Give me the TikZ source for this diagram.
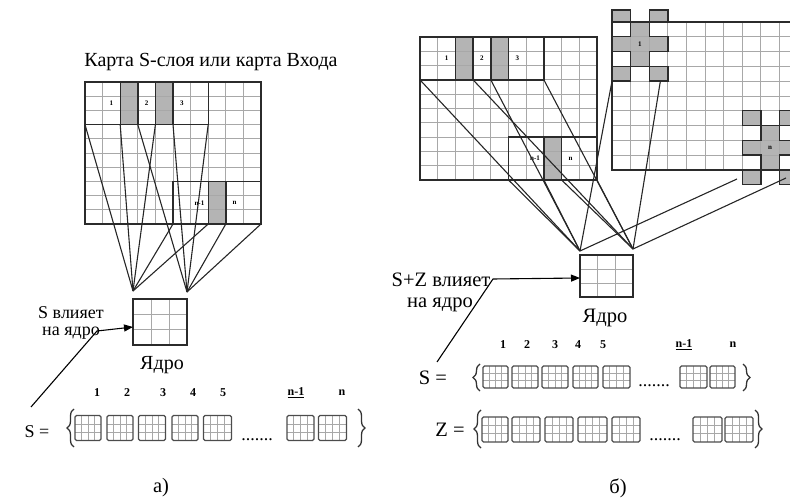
\documentclass[tikz,border=0pt]{standalone}
\usepackage{fontspec}
\setmainfont{Liberation Serif}
\usetikzlibrary{calc,arrows.meta,decorations.pathreplacing}
\definecolor{frameclr}{HTML}{2B2B2B}
\definecolor{gridclr}{HTML}{A8A8A8}
\definecolor{shadeclr}{HTML}{B4B4B4}
\tikzset{
  gridline/.style={draw=gridclr, line width=0.9pt},
  frameline/.style={draw=frameclr, line width=1.4pt},
  link/.style={draw=black!85, line width=1.1pt},
  celltag/.style={font=\fontsize{7}{7}\selectfont\bfseries, inner sep=0pt},
  caption/.style={font=\fontsize{18}{18}\selectfont, inner sep=0pt},
  bigcaption/.style={font=\fontsize{20.5}{20.5}\selectfont, inner sep=0pt},
  numtag/.style={font=\fontsize{12}{12}\selectfont\bfseries, inner sep=0pt},
  holder/.style={inner sep=0pt, outer sep=0pt},
  boxedge/.style={draw=black!70, line width=1.3pt, rounded corners=1.5pt},
  boxgrid/.style={draw=gridclr, line width=0.6pt},
  kernel/.style={inner sep=0pt, outer sep=0pt},
  pointer/.style={draw=black, line width=1.1pt, -{Triangle[length=9pt,width=7pt]}},
  curly/.style={decorate, decoration={brace, amplitude=7pt}, draw=black!80, line width=1.3pt},
}
% 10x10 input map: #1 name prefix, #2,#3 top-left corner, #4 cell width, #5 cell height
\newcommand\inputmap[5]{%
  \begin{scope}[shift={(#2,#3)}, x=#4pt, y=-#5pt]
    \fill[shadeclr] (2,0) rectangle (3,3) (4,0) rectangle (5,3) (7,7) rectangle (8,10);
    \foreach \i in {1,...,9} {
      \draw[gridline] (\i,0) -- (\i,10);
      \draw[gridline] (0,\i) -- (10,\i);
    }
    \draw[frameline] (0,0) rectangle (10,10);
    \draw[frameline] (0,3) -- (7,3) -- (7,0)
      (2,0) -- (2,3) (3,0) -- (3,3) (4,0) -- (4,3) (5,0) -- (5,3)
      (5,10) -- (5,7) -- (10,7) (7,7) -- (7,10) (8,7) -- (8,10);
    \node[celltag] (#1-w1) at (1.5,1.5) {1};
    \node[celltag] (#1-w2) at (3.5,1.5) {2};
    \node[celltag] (#1-w3) at (5.5,1.5) {3};
    \node[celltag] (#1-wm) at (6.5,8.5) {n-1};
    \node[celltag] (#1-wn) at (8.5,8.5) {n};
    \coordinate (#1-t0) at (0,3);
    \coordinate (#1-t2) at (2,3);
    \coordinate (#1-t3) at (3,3);
    \coordinate (#1-t4) at (4,3);
    \coordinate (#1-t5) at (5,3);
    \coordinate (#1-t7) at (7,3);
    \coordinate (#1-b5) at (5,10);
    \coordinate (#1-b7) at (7,10);
    \coordinate (#1-b8) at (8,10);
    \coordinate (#1-b10) at (10,10);
  \end{scope}}
% 3x3 kernel: #1 name, #2 centre, #3 width, #4 height
\newcommand\kernelbox[4]{%
  \node[kernel, minimum width=#3pt, minimum height=#4pt] (#1) at (#2) {};
  \foreach \f in {0.3333,0.6667} {
    \draw[gridline] ($(#1.north west)!\f!(#1.north east)$) -- ($(#1.south west)!\f!(#1.south east)$);
    \draw[gridline] ($(#1.north west)!\f!(#1.south west)$) -- ($(#1.north east)!\f!(#1.south east)$);
  }
  \draw[frameline] (#1.north west) rectangle (#1.south east);}
% small kernel picture in a set: #1 name, #2 centre, #3 width, #4 height
\newcommand\setcell[4]{%
  \node[holder, minimum width=#3pt, minimum height=#4pt] (#1) at (#2) {};
  \foreach \f in {0.25,0.5,0.75}
    \draw[boxgrid] ($(#1.north west)!\f!(#1.north east)$) -- ($(#1.south west)!\f!(#1.south east)$);
  \foreach \f in {0.3333,0.6667}
    \draw[boxgrid] ($(#1.north west)!\f!(#1.south west)$) -- ($(#1.north east)!\f!(#1.south east)$);
  \draw[boxedge] (#1.north west) rectangle (#1.south east);}
\begin{document}
\begin{tikzpicture}[x=1pt, y=-1pt]
\useasboundingbox (0,0) rectangle (790,502);

%% ---------- panel a ----------
\node[font=\fontsize{20}{20}\selectfont, inner sep=0pt] (titleA) at (211,62) {Карта S-слоя или карта Входа};
\inputmap{sa}{85}{82}{17.6}{14.2}
\kernelbox{ka}{160,322}{54}{46}
\coordinate (ka-l) at ($(ka.north west)+(0,-8)$);
\coordinate (ka-r) at ($(ka.north east)+(0,-7)$);
\foreach \p in {sa-t0,sa-t2,sa-t4,sa-b5,sa-b7} \draw[link] (\p) -- (ka-l);
\foreach \p in {sa-t3,sa-t5,sa-t7,sa-b8,sa-b10} \draw[link] (\p) -- (ka-r);
\node[font=\fontsize{20}{20}\selectfont, inner sep=0pt] (kaname) at (162,365) {Ядро};
\node[caption] (infA1) at (71,313) {S влияет};
\node[caption] (infA2) at (71,333) {на ядро};
\coordinate (pa-tail) at (31,407);
\coordinate (pa-bend) at (97,331);
\draw[pointer] (pa-tail) -- (pa-bend) -- ($(ka.west)+(0,5)$);

% set S
\node[caption] (setSa) at (37,432) {S =};
\draw[curly] (74,447) -- (74,409);
\setcell{sa1}{88,428}{26}{25}
\setcell{sa2}{120,428}{26}{25}
\setcell{sa3}{152,428}{27}{25}
\setcell{sa4}{185,428}{26}{25}
\setcell{sa5}{217.5,428}{28}{25}
\node[caption, anchor=base] (dotsA) at (257,440) {.......};
\setcell{sa6}{300.5,428}{27}{25}
\setcell{sa7}{332.5,428}{28}{25}
\draw[curly] (358,409) -- (358,447);
\foreach \t/\x in {1/97,2/127,3/163,4/193,5/223}
  \node[numtag] (nA\t) at (\x,393) {\t};
\node[numtag] (nAm) at (296,393) {\underline{n-1}};
\node[numtag] (nAn) at (342,393) {n};
\node[bigcaption] (capA) at (161,488) {а)};

%% ---------- panel b ----------
\inputmap{sb}{420}{37}{17.7}{14.3}
% map with the cross-shaped windows
\begin{scope}
  \clip (600,0) rectangle (790,200);
  \begin{scope}[shift={(612,22)}, x=18.6pt, y=-14.8pt]
    \fill[shadeclr] (0,-0.8) rectangle (1,0) (2,-0.8) rectangle (3,0)
      (1,0) rectangle (2,3) (0,1) rectangle (3,2) (0,3) rectangle (1,4) (2,3) rectangle (3,4);
    \fill[shadeclr] (7,6) rectangle (8,7) (9,6) rectangle (10,7)
      (8,7) rectangle (9,10) (7,8) rectangle (10,9) (7,10) rectangle (8,11) (9,10) rectangle (10,11);
    \foreach \i in {1,...,10} \draw[gridline] (\i,0) -- (\i,10);
    \foreach \i in {1,...,9} \draw[gridline] (0,\i) -- (10,\i);
    \draw[gridline] (1,-0.8) -- (1,0) (2,-0.8) -- (2,0);
    \draw[frameline] (0,0) -- (10,0) (0,0) -- (0,10) -- (10,10);
    \draw[frameline] (0,-0.8) rectangle (1,0) (2,-0.8) rectangle (3,0)
      (1,0) -- (1,1) -- (0,1) -- (0,2) -- (1,2) -- (1,3) -- (2,3) -- (2,2) -- (3,2) -- (3,1) -- (2,1) -- (2,0)
      (0,3) rectangle (1,4) (2,3) rectangle (3,4);
    \draw[frameline] (7,6) rectangle (8,7) (9,6) rectangle (10,7)
      (8,7) -- (8,8) -- (7,8) -- (7,9) -- (8,9) -- (8,10) -- (9,10) -- (9,9) -- (10,9) -- (10,8) -- (9,8) -- (9,7) -- cycle
      (7,10) rectangle (8,11) (9,10) rectangle (10,11);
    \node[celltag] (zc1) at (1.5,1.5) {1};
    \node[celltag] (zc2) at (8.5,8.5) {n};
    \coordinate (z-c1l) at (0,4);
    \coordinate (z-c1r) at (2.6,4);
  \end{scope}
\end{scope}
\coordinate (z-c2l) at (737,179);
\coordinate (z-c2r) at (786,178);
\kernelbox{kb}{606.5,276}{53}{42}
\coordinate (kb-l) at ($(kb.north west)+(0,-4)$);
\coordinate (kb-r) at ($(kb.north east)+(0,-6)$);
\foreach \p in {sb-t0,sb-t4,sb-b5,sb-b7,z-c1l,z-c2l} \draw[link] (\p) -- (kb-l);
\foreach \p in {sb-t3,sb-t7,sb-b8,sb-b10,z-c1r,z-c2r} \draw[link] (\p) -- (kb-r);
\node[bigcaption] (kbname) at (605,318) {Ядро};
\node[bigcaption] (infB1) at (441,280) {S+Z влияет};
\node[bigcaption] (infB2) at (440,305) {на ядро};
\coordinate (pb-tail) at (437,362);
\coordinate (pb-bend) at (493,279);
\draw[pointer] (pb-tail) -- (pb-bend) -- ($(kb.west)+(0,2)$);

\foreach \t/\x in {1/503,2/527,3/555,4/578,5/603}
  \node[numtag] (nB\t) at (\x,345) {\t};
\node[numtag] (nBm) at (684,345) {\underline{n-1}};
\node[numtag] (nBn) at (733,345) {n};

% set S
\node[bigcaption] (setSb) at (433,378) {S =};
\draw[curly] (480,391) -- (480,364);
\setcell{sb1}{495.5,377}{25}{22}
\setcell{sb2}{525,377}{26}{22}
\setcell{sb3}{555,377}{26}{22}
\setcell{sb4}{585.5,377}{25}{22}
\setcell{sb5}{616.5,377}{27}{22}
\node[caption, anchor=base] (dotsB) at (654,387) {.......};
\setcell{sb6}{693.5,377}{27}{22}
\setcell{sb7}{722.5,377}{25}{22}
\draw[curly] (743,364) -- (743,391);
% set Z
\node[bigcaption] (setZ) at (450,430) {Z =};
\draw[curly] (481,448) -- (481,410);
\setcell{zz1}{495,429.5}{26}{25}
\setcell{zz2}{526,429.5}{28}{25}
\setcell{zz3}{559,429.5}{28}{25}
\setcell{zz4}{592.5,429.5}{29}{25}
\setcell{zz5}{626,429.5}{28}{25}
\node[caption, anchor=base] (dotsZ) at (665,441) {.......};
\setcell{zz6}{707.5,429.5}{29}{25}
\setcell{zz7}{739,429.5}{28}{25}
\draw[curly] (755,410) -- (755,448);
\node[bigcaption] (capB) at (618,488) {б)};
\end{tikzpicture}
\end{document}
